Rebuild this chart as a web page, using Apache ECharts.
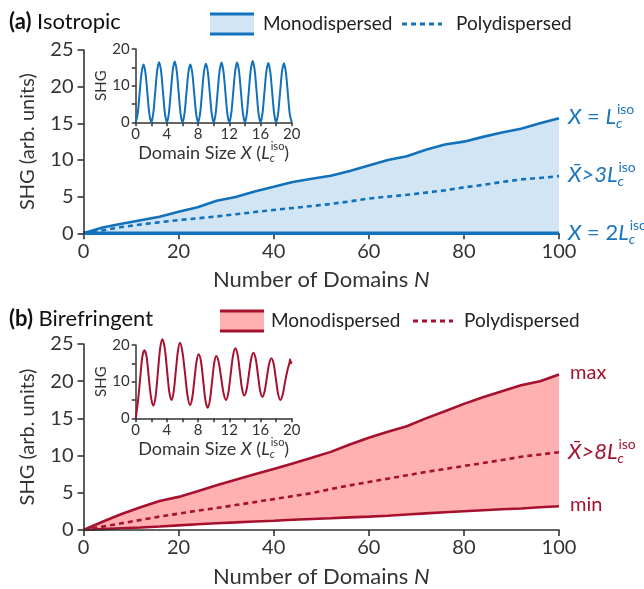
<!DOCTYPE html>
<html><head><meta charset="utf-8">
<script src="https://cdn.jsdelivr.net/npm/echarts@6/dist/echarts.min.js"></script>
<style>html,body{margin:0;padding:0;background:#fff}#c{width:644px;height:589px}</style>
</head><body><div id="c"></div>
<script>
// ---------- data ----------
const N = [0,4,8,12,16,20,24,28,32,36,40,44,48,52,56,60,64,68,72,76,80,84,88,92,96,100];
const isoMono = [0,0.8,1.3,1.78,2.26,2.95,3.55,4.45,4.95,5.7,6.36,7.0,7.45,7.85,8.5,9.25,10.0,10.5,11.4,12.1,12.5,13.15,13.75,14.25,15.0,15.7];
const isoPoly = [0,0.4,0.85,1.2,1.5,1.8,2.05,2.3,2.6,2.9,3.18,3.45,3.72,4.0,4.35,4.75,5.0,5.25,5.55,5.85,6.27,6.6,7.0,7.35,7.55,7.8];
const isoLowN = [0,100];
const isoLow = [0,0];
const birMax = [0,1.1,2.15,3.05,3.9,4.45,5.2,6.0,6.75,7.5,8.2,8.95,9.7,10.5,11.5,12.4,13.2,13.95,15.0,15.95,16.95,17.85,18.65,19.45,20.0,20.9];
const birPoly = [0,0.45,0.9,1.35,1.8,2.2,2.6,2.95,3.35,3.75,4.15,4.55,4.95,5.5,6.0,6.45,6.9,7.35,7.8,8.2,8.6,9.0,9.4,9.85,10.15,10.45];
const birMin = [0,0.12,0.23,0.33,0.47,0.62,0.77,0.9,1.02,1.15,1.25,1.37,1.47,1.57,1.7,1.8,1.92,2.08,2.23,2.38,2.52,2.65,2.78,2.9,3.05,3.2];

const insetIsoX = [0,0.25,0.5,0.75,1,1.25,1.5,1.75,2,2.25,2.5,2.75,3,3.25,3.5,3.75,4,4.25,4.5,4.75,5,5.25,5.5,5.75,6,6.25,6.5,6.75,7,7.25,7.5,7.75,8,8.25,8.5,8.75,9,9.25,9.5,9.75,10,10.25,10.5,10.75,11,11.25,11.5,11.75,12,12.25,12.5,12.75,13,13.25,13.5,13.75,14,14.25,14.5,14.75,15,15.25,15.5,15.75,16,16.25,16.5,16.75,17,17.25,17.5,17.75,18,18.25,18.5,18.75,19,19.25,19.5,19.75,20];
const insetIsoY = [0,2.3,7.9,13.5,15.8,13.5,7.9,2.3,
  0,2.4,8.2,14.0,16.4,14.0,8.2,2.4,
  0,2.4,8.3,14.2,16.6,14.2,8.3,2.4,
  0,2.3,7.9,13.5,15.8,13.5,7.9,2.3,
  0,2.3,8.0,13.7,16.0,13.7,8.0,2.3,
  0,2.4,8.2,13.9,16.3,13.9,8.2,2.4,
  0,2.4,8.1,13.9,16.3,13.9,8.1,2.4,
  0,2.4,8.4,14.3,16.7,14.3,8.4,2.4,
  0,2.4,8.1,13.8,16.2,13.8,8.1,2.4,
  0,2.3,8.0,13.7,16.1,13.7,8.0,2.3,0];

const insetBirX = [0,0.3,0.6,0.85,1.11,1.4,1.68,1.98,2.26,2.55,2.84,3.13,3.42,3.72,4.01,4.3,4.6,4.87,5.14,5.41,5.68,6.0,6.33,6.65,6.97,7.25,7.53,7.8,8.08,8.37,8.66,8.94,9.23,9.51,9.79,10.06,10.34,10.65,10.96,11.27,11.58,11.88,12.18,12.48,12.78,13.07,13.36,13.64,13.93,14.22,14.51,14.8,15.09,15.38,15.67,15.95,16.24,16.53,16.82,17.11,17.4,17.69,17.98,18.26,18.55,18.85,19.15,19.5,19.7,19.8,19.9,20];
const insetBirY = [0,4.8,11.5,16.8,18.6,16.8,11.0,5.5,3.45,5.9,12.5,19.0,21.6,19.2,13.3,7.3,5.0,7.3,12.8,18.3,20.6,18.0,12.1,6.1,3.6,5.6,10.6,15.5,17.5,15.5,10.2,4.9,2.9,4.9,10.0,15.0,17.0,15.2,11.0,6.8,5.0,7.0,12.1,17.1,19.1,17.3,12.6,8.0,6.2,7.9,12.0,16.2,17.9,16.3,11.9,7.5,5.9,7.4,11.2,14.9,16.4,14.8,10.7,6.6,5.0,6.5,10.0,13.5,15.0,16.1,15.0,15.5];

// ---------- style ----------
const BLUE = '#1271bb', BLUE_FILL = '#d2e5f5', BLUE_TXT = '#1a74be';
const RED = '#a5112f', RED_FILL = '#ffb1b1', RED_TXT = '#a5122f';
const AX = '#333333';
const FAM = 'Lato';

const pairs = (xs, ys) => xs.map((x, i) => [x, ys[i]]);

function mainX(gi, z) {
  return {
    type: 'value', gridIndex: gi, min: 0, max: 100, interval: 20, z: z,
    axisLine: {show: true, onZero: false, lineStyle: {color: AX, width: 1.6}},
    axisTick: {show: true, length: 6, lineStyle: {color: AX, width: 1.6}},
    splitLine: {show: false},
    axisLabel: {color: AX, fontSize: 20, margin: 8, fontFamily: FAM},
    name: 'Number of Domains {i|N}', nameLocation: 'middle', nameGap: 36,
    nameTextStyle: {color: AX, fontSize: 22, fontFamily: FAM,
      rich: {i: {fontStyle: 'italic', fontSize: 22, color: AX, fontFamily: FAM}}}
  };
}
function mainY(gi) {
  return {
    type: 'value', gridIndex: gi, min: 0, max: 25, interval: 5, z: 4,
    axisLine: {show: true, lineStyle: {color: AX, width: 1.6}},
    axisTick: {show: true, length: 6, lineStyle: {color: AX, width: 1.6}},
    splitLine: {show: false},
    axisLabel: {color: AX, fontSize: 20, margin: 10, fontFamily: FAM},
    name: 'SHG (arb. units)', nameLocation: 'middle', nameGap: 46,
    nameTextStyle: {color: AX, fontSize: 20, fontFamily: FAM}
  };
}
function insetX(gi) {
  return {
    type: 'value', gridIndex: gi, min: 0, max: 20, interval: 2,
    axisLine: {show: true, onZero: false, lineStyle: {color: AX, width: 1.5}},
    axisTick: {show: true, length: 4, lineStyle: {color: AX, width: 1.5}},
    splitLine: {show: false},
    axisLabel: {color: AX, fontSize: 15, margin: 4, fontFamily: FAM,
      formatter: v => (v % 4 === 0 ? String(v) : '')}
  };
}
function insetY(gi) {
  return {
    type: 'value', gridIndex: gi, min: 0, max: 20, interval: 5,
    axisLine: {show: true, lineStyle: {color: AX, width: 1.5}},
    axisTick: {show: true, length: 4, lineStyle: {color: AX, width: 1.5}},
    splitLine: {show: false},
    axisLabel: {color: AX, fontSize: 15, margin: 6, fontFamily: FAM,
      formatter: v => (v % 10 === 0 ? String(v) : '')},
    name: 'SHG', nameLocation: 'middle', nameGap: 24,
    nameTextStyle: {color: AX, fontSize: 15, fontFamily: FAM}
  };
}

// ---------- text helpers ----------
const mctx = document.createElement('canvas').getContext('2d');
function tw(t, font) { mctx.font = font; return mctx.measureText(t).width; }
function fontStr(size, it, b) { return (it ? 'italic ' : '') + (b ? 'bold ' : '') + size + 'px ' + FAM; }
function mathLabel(segs, x, y, size, color, align) {
  const small = Math.round(size * 0.62);
  const items = [];
  let cx = 0;
  segs.forEach(s => {
    if (s.sup !== undefined) {
      const w1 = tw(s.sup, fontStr(small, false, false));
      const w2 = tw(s.sub, fontStr(small, true, false));
      items.push({text: s.sup, x: cx + 1, dy: -size * 0.36, size: small, it: false});
      items.push({text: s.sub, x: cx, dy: size * 0.30, size: small, it: true});
      cx += Math.max(w1, w2) + 1;
    } else {
      items.push({text: s.t, x: cx, dy: 0, size: size, it: !!s.it, b: !!s.b});
      cx += tw(s.t, fontStr(size, s.it, s.b));
    }
  });
  const x0 = align === 'center' ? x - cx / 2 : x;
  return items.map(it => ({
    type: 'text', x: x0 + it.x, y: y + it.dy, z: 100,
    style: {text: it.text, fill: color, font: fontStr(it.size, it.it, it.b), verticalAlign: 'middle', align: 'left'}
  }));
}
const LC = [{t: 'L', it: true}, {sup: 'iso', sub: 'c'}];

let graphics = [];
graphics = graphics.concat(mathLabel([{t: '(a)', b: true}, {t: ' Isotropic'}], 9, 22, 22, '#111'));
graphics = graphics.concat(mathLabel([{t: '(b)', b: true}, {t: ' Birefringent'}], 9, 319, 22, '#111'));
function legend(y, x0, col, fill, xMonoTxt, xDash, xPolyTxt) {
  return [
    {type: 'rect', shape: {x: x0, y: y - 10, width: 44, height: 20}, style: {fill: fill}, z: 100},
    {type: 'line', shape: {x1: x0, y1: y - 10, x2: x0 + 44, y2: y - 10}, style: {stroke: col, lineWidth: 3}, z: 100},
    {type: 'line', shape: {x1: x0, y1: y + 10, x2: x0 + 44, y2: y + 10}, style: {stroke: col, lineWidth: 3}, z: 100},
    {type: 'text', x: xMonoTxt, y: y, style: {text: 'Monodispersed', fill: '#222', font: '19px ' + FAM, verticalAlign: 'middle'}, z: 100},
    {type: 'line', shape: {x1: xDash, y1: y, x2: xDash + 40, y2: y}, style: {stroke: col, lineWidth: 3, lineDash: [5, 4]}, z: 100},
    {type: 'text', x: xPolyTxt, y: y, style: {text: 'Polydispersed', fill: '#222', font: '19px ' + FAM, verticalAlign: 'middle'}, z: 100}
  ];
}
graphics = graphics.concat(legend(24, 210, BLUE, BLUE_FILL, 263, 402, 456));
graphics = graphics.concat(legend(321, 220, RED, RED_FILL, 271, 413, 464));
const insetTitle = [{t: 'Domain Size '}, {t: 'X', it: true}, {t: ' ('}].concat(LC).concat([{t: ')'}]);
graphics = graphics.concat(mathLabel(insetTitle, 213.7, 153, 18, AX, 'center'));
graphics = graphics.concat(mathLabel(insetTitle, 213.7, 449, 18, AX, 'center'));
graphics = graphics.concat(mathLabel([{t: 'X', it: true}, {t: ' = '}].concat(LC), 568, 117, 22, BLUE_TXT));
graphics = graphics.concat(mathLabel([{t: 'X\u0304', it: true}, {t: '>3', it: true}].concat(LC), 568, 175, 22, BLUE_TXT));
graphics = graphics.concat(mathLabel([{t: 'X', it: true}, {t: ' = 2'}].concat(LC), 568, 233, 22, BLUE_TXT));
graphics.push({type: 'text', x: 570, y: 373, z: 100, style: {text: 'max', fill: RED_TXT, font: '20px ' + FAM, verticalAlign: 'middle'}});
graphics = graphics.concat(mathLabel([{t: 'X\u0304', it: true}, {t: '>8', it: true}].concat(LC), 568, 452, 22, RED_TXT));
graphics.push({type: 'text', x: 570, y: 505, z: 100, style: {text: 'min', fill: RED_TXT, font: '20px ' + FAM, verticalAlign: 'middle'}});

const line = (xi, data, color, width, extra) => Object.assign({
  type: 'line', xAxisIndex: xi, yAxisIndex: xi, data: data, symbol: 'none', showSymbol: false,
  lineStyle: {color: color, width: width}, itemStyle: {color: color}, silent: true, animation: false, z: 3
}, extra || {});

const option = {
  animation: false,
  backgroundColor: '#fff',
  textStyle: {fontFamily: FAM},
  grid: [
    {left: 83.5, top: 50, width: 475.5, height: 183.3},
    {left: 83.5, top: 344, width: 475.5, height: 186},
    {left: 135.7, top: 49, width: 156, height: 73.3},
    {left: 135.7, top: 345, width: 156, height: 73.3}
  ],
  xAxis: [mainX(0, 0), mainX(1, 4), insetX(2), insetX(3)],
  yAxis: [mainY(0), mainY(1), insetY(2), insetY(3)],
  series: [
    line(0, pairs(N, isoMono), BLUE, 2.6, {name: 'Monodispersed', areaStyle: {color: BLUE_FILL, opacity: 1, origin: 'start'}}),
    line(0, pairs(N, isoPoly), BLUE, 2.6, {name: 'Polydispersed', lineStyle: {color: BLUE, width: 2.6, type: [5, 4]}}),
    line(0, pairs(isoLowN, isoLow), BLUE, 3.5, {name: 'Monodispersed min'}),
    // band between max and min: pink area under max, white area under min
    line(1, pairs(N, birMax), RED, 0, {lineStyle: {opacity: 0, width: 0}, areaStyle: {color: RED_FILL, opacity: 1, origin: 'start'}, z: 1}),
    line(1, pairs(N, birMin), RED, 0, {lineStyle: {opacity: 0, width: 0}, areaStyle: {color: '#ffffff', opacity: 1, origin: 'start'}, z: 2}),
    line(1, pairs(N, birMax), RED, 2.6, {name: 'Monodispersed max'}),
    line(1, pairs(N, birMin), RED, 2.6, {name: 'Monodispersed min b'}),
    line(1, pairs(N, birPoly), RED, 2.6, {name: 'Polydispersed b', lineStyle: {color: RED, width: 2.6, type: [5, 4]}}),
    line(2, pairs(insetIsoX, insetIsoY), BLUE, 2, {smooth: 0.3}),
    line(3, pairs(insetBirX, insetBirY), RED, 2, {smooth: 0.3, clip: false})
  ],
  graphic: graphics
};
const chart = echarts.init(document.getElementById('c'));
chart.setOption(option);
</script>
</body></html>
